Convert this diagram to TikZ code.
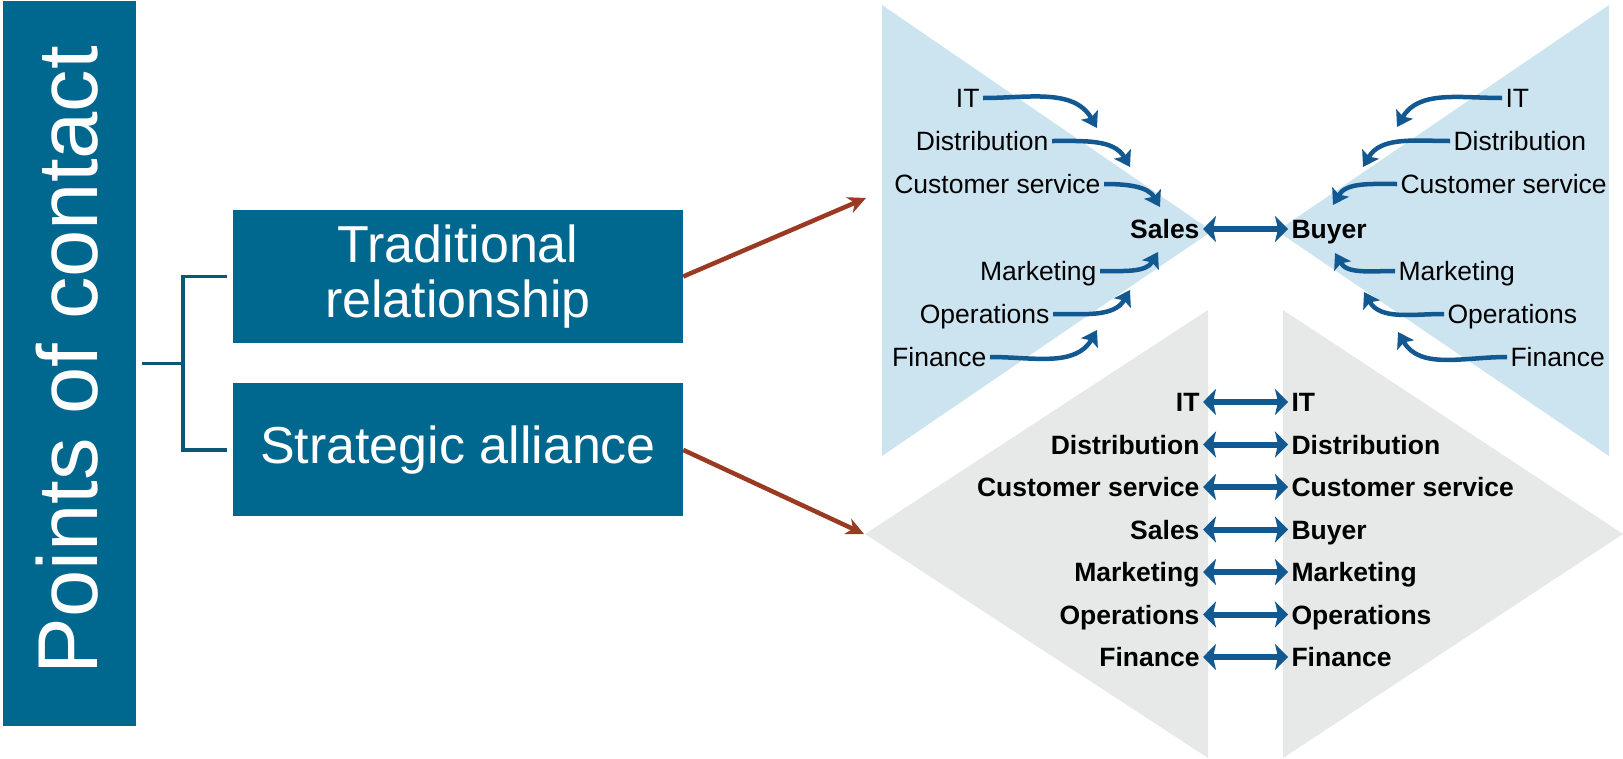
\documentclass[tikz,border=0pt]{standalone}
\usepackage{fontspec}
\setmainfont{Liberation Sans}
\usetikzlibrary{positioning,arrows.meta}
\definecolor{pocblue}{RGB}{0,103,142}
\definecolor{bracketcol}{RGB}{10,88,118}
\definecolor{rust}{RGB}{154,58,34}
\definecolor{fanblue}{RGB}{204,228,240}
\definecolor{fangrey}{RGB}{231,232,232}
\definecolor{linkblue}{RGB}{18,88,145}
\tikzset{
  bluebox/.style={fill=pocblue,text=white,inner sep=0pt,align=center},
  role/.style={font=\fontsize{26.5}{30}\selectfont,text height=19pt,text depth=0pt},
  boldrole/.style={role,font=\fontsize{26.5}{30}\selectfont\bfseries},
  feed/.style={linkblue,line width=4.5pt,-{Stealth[length=15pt,width=19pt,inset=3pt]}},
  link/.style={linkblue,line width=6pt,{Stealth[length=13pt,width=26pt,inset=3pt]}-{Stealth[length=13pt,width=26pt,inset=3pt]}},
  pointer/.style={rust,line width=4.5pt,-{Stealth[length=18pt,width=17pt]}},
  bracket/.style={bracketcol,line width=3.5pt}
}
\begin{document}
\begin{tikzpicture}[x=1pt,y=-1pt]
\useasboundingbox (0,0) rectangle (1623,758);
% the two fans
\fill[fanblue] (882,5) -- (1212,231) -- (882,456) -- cycle;
\fill[fanblue] (1609,5) -- (1277,231) -- (1609,456) -- cycle;
\fill[fangrey] (1208,310) -- (865,534) -- (1208,758) -- cycle;
\fill[fangrey] (1283,310) -- (1623,534) -- (1283,758) -- cycle;
% left side
\node[bluebox,minimum width=133pt,minimum height=725pt] (poc) at (69.5,363.5) {};
\node[rotate=90,anchor=base,text=white,font=\fontsize{85}{85}\selectfont] (title) at (97,360) {Points of contact};
\node[bluebox,minimum width=450pt,minimum height=133pt,font=\fontsize{52}{55}\selectfont] (trad) at (458,276.5) {Traditional\\relationship};
\node[bluebox,minimum width=450pt,minimum height=133pt,font=\fontsize{52}{55}\selectfont,below=40pt of trad] (alli) {Strategic alliance};
\coordinate (fork) at (183,363.5);
\draw[bracket] ([xshift=6pt]poc.east) -- (fork);
\draw[bracket] ([xshift=-6pt]trad.west) -| (fork) |- ([xshift=-6pt]alli.west);
\coordinate (fantop) at (866,198);
\coordinate (fanbot) at (864,534);
\draw[pointer] (trad.east) -- (fantop);
\draw[pointer] (alli.east) -- (fanbot);
% traditional: everyone goes through sales and buyer
\node[boldrole,anchor=east] (sales) at (1203,229) {Sales};
\node[boldrole,anchor=west] (buyer) at (1288,229) {Buyer};
\draw[link] (sales.east) -- (buyer.west);
\foreach \n/\t/\x/\y/\tx/\ty/\a in {it/IT/983/98/1097/128/120,dis/Distribution/1052/141/1130/167/120,cus/Customer service/1104/184/1160/207/120,mar/Marketing/1100/271/1158/252/240,ope/Operations/1053/314/1130/290/240,fin/Finance/990/357/1097/330/240}{
  \node[role,anchor=east] (ls-\n) at (\x,\y) {\t};
  \coordinate (lt-\n) at (\tx,\ty);
  \draw[feed] (ls-\n.east) to[out=0,in=\a] (lt-\n);
}
\foreach \n/\t/\x/\y/\tx/\ty/\a in {it/IT/1502/98/1397/127/60,dis/Distribution/1450/141/1363/167/60,cus/Customer service/1397/184/1333/205/60,mar/Marketing/1395/271/1335/253/300,ope/Operations/1444/314/1364/292/300,fin/Finance/1507/357/1398/332/300}{
  \node[role,anchor=west] (rs-\n) at (\x,\y) {\t};
  \coordinate (rt-\n) at (\tx,\ty);
  \draw[feed] (rs-\n.west) to[out=180,in=\a] (rt-\n);
}
% alliance: function to function
\foreach \t/\u [count=\i] in {IT/IT,Distribution/Distribution,Customer service/Customer service,Sales/Buyer,Marketing/Marketing,Operations/Operations,Finance/Finance}{
  \node[boldrole,anchor=east] (gl\i) at (1203,359.5+42.5*\i) {\t};
  \node[boldrole,anchor=west] (gr\i) at (1288,359.5+42.5*\i) {\u};
  \draw[link] (gl\i.east) -- (gr\i.west);
}
\end{tikzpicture}
\end{document}
